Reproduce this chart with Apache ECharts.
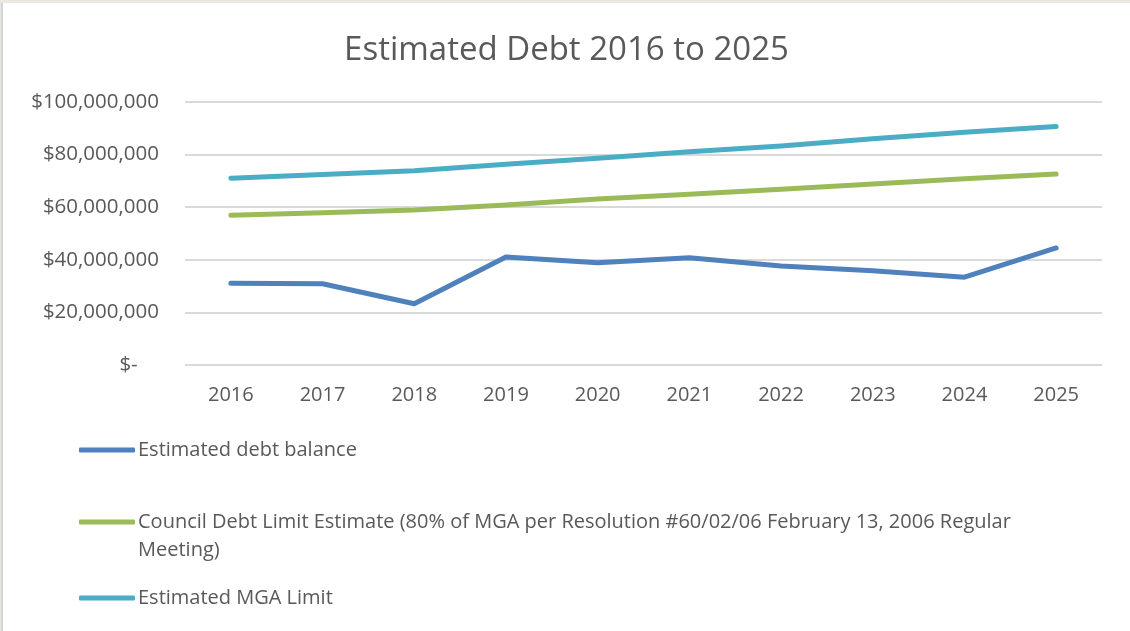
<!DOCTYPE html>
<html>
<head>
<meta charset="utf-8">
<script src="https://cdn.jsdelivr.net/npm/echarts@6/dist/echarts.min.js"></script>
<style>
  html, body { margin: 0; padding: 0; background: #ebe8e0; }
  #frame {
    position: absolute; left: 1px; top: 3px; width: 1127px; height: 628px;
    background: #fff; border-left: 2px solid #d4d4d4;
  }
  #main { width: 1127px; height: 628px; }
</style>
</head>
<body>
<div id="frame"><div id="main"></div></div>
<script>
// years on the x axis
const years = ["2016", "2017", "2018", "2019", "2020", "2021", "2022", "2023", "2024", "2025"];
// values, in millions of dollars
const debtBalance = [31.1, 30.9, 23.3, 41.1, 38.9, 40.8, 37.6, 35.8, 33.4, 44.5];
const councilLimit = [56.9, 57.9, 58.9, 60.8, 63.1, 64.9, 66.8, 68.8, 70.8, 72.6];
const mgaLimit = [71.0, 72.4, 73.9, 76.3, 78.6, 81.1, 83.3, 86.0, 88.5, 90.7];

const seriesNames = [
  "Estimated debt balance",
  "Council Debt Limit Estimate (80% of MGA per Resolution #60/02/06 February 13, 2006 Regular Meeting)",
  "Estimated MGA Limit"
];
const colors = ["#4f81bd", "#9bbb59", "#4bacc6"];

const M = v => v.map(x => Math.round(x * 1e6));
const fontFam = "'Open Sans', 'Noto Sans', sans-serif";
const grey = "#595959";

function money(v) {
  if (v === 0) return "$-    ";
  return "$" + v.toLocaleString("en-US");
}

const chart = echarts.init(document.getElementById("main"));

// one legend per item so the gaps match the original
const legendTops = [428, 472, 576];
const legends = seriesNames.map((n, i) => ({
  data: [n],
  left: 71,
  top: legendTops[i],
  orient: "vertical",
  icon: "roundRect",
  itemWidth: 56,
  itemHeight: 5,
  itemGap: 0,
  selectedMode: false,
  textStyle: { color: grey, fontSize: 20, fontFamily: fontFam, lineHeight: 28, padding: [0, 0, 0, -2] },
  // long name wraps; blank first line keeps the icon level with the first text line
  formatter: name => name.indexOf(" Meeting)") > 0 ? "\n" + name.replace(" Meeting)", "\nMeeting)") : name
}));

const lists = [debtBalance, councilLimit, mgaLimit];

chart.setOption({
  animation: false,
  title: {
    text: "Estimated Debt 2016 to 2025",
    left: "center",
    top: 26,
    textStyle: { color: grey, fontSize: 33, fontWeight: "normal", fontFamily: fontFam }
  },
  legend: legends,
  grid: { left: 182, right: 28, top: 99, bottom: 266 },
  xAxis: {
    type: "category",
    data: years,
    boundaryGap: true,
    axisLine: { show: false },
    axisTick: { show: false },
    axisLabel: { color: grey, fontSize: 20, fontFamily: fontFam, margin: 20 }
  },
  yAxis: {
    type: "value",
    min: 0,
    max: 100000000,
    interval: 20000000,
    axisLine: { show: false },
    axisTick: { show: false },
    axisLabel: { color: grey, fontSize: 20.5, fontFamily: fontFam, margin: 26, formatter: money },
    splitLine: { lineStyle: { color: "#d9d9d9", width: 2 } }
  },
  series: seriesNames.map((n, i) => ({
    name: n,
    type: "line",
    data: M(lists[i]),
    symbol: "none",
    color: colors[i],
    lineStyle: { width: 5, cap: "round", join: "round" }
  }))
});
</script>
</body>
</html>
